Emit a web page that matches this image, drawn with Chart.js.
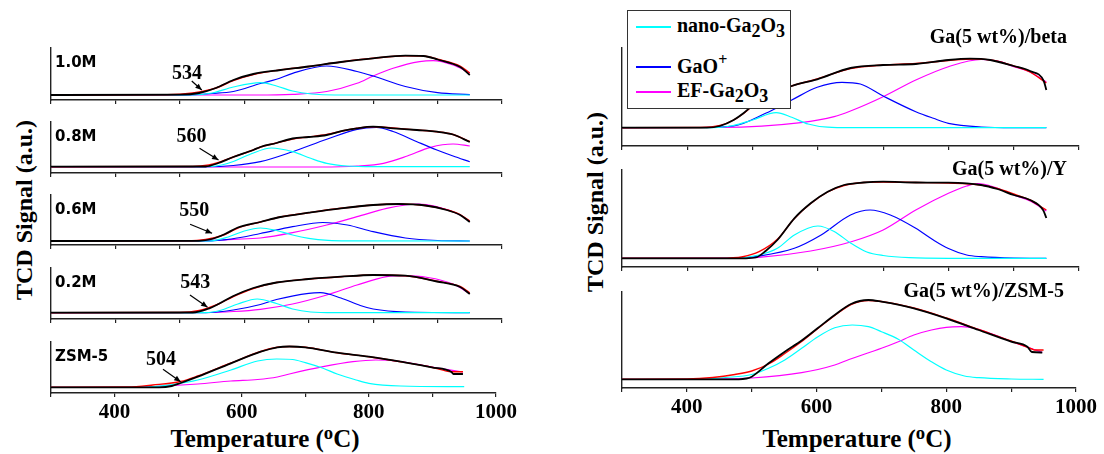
<!DOCTYPE html>
<html>
<head>
<meta charset="utf-8">
<script src="https://cdn.jsdelivr.net/npm/chart.js@4.4.0/dist/chart.umd.min.js"></script>
<style>
  body { margin: 0; background: #fff; width: 1104px; height: 454px; position: relative; overflow: hidden; font-family: "Liberation Serif", serif; }
  canvas { position: absolute; }
  .ytitle { position: absolute; font-weight: bold; font-size: 24px; white-space: nowrap; transform: translate(-50%, -50%) rotate(-90deg); }
  .xtitle { position: absolute; font-weight: bold; font-size: 25px; line-height: 25px; white-space: nowrap; transform: translateX(-50%); }
  .xtitle sup { font-size: 0.75em; vertical-align: 0.45em; line-height: 0; }
  #legend { position: absolute; left: 627px; top: 10px; width: 162px; height: 97px; border: 1px solid #333; background: #fff; z-index: 5; }
  #legend .swatch { position: absolute; left: 8px; width: 35px; height: 1.5px; }
  #legend .item { position: absolute; left: 49px; font-weight: bold; font-size: 20px; line-height: 20px; white-space: nowrap; }
  #legend sub { font-size: 0.9em; vertical-align: -0.3em; line-height: 0; }
  #legend sup { font-size: 0.8em; vertical-align: 0.5em; line-height: 0; }
</style>
</head>
<body>

<div class="ytitle" style="left:24px; top:210px;">TCD Signal (a.u.)</div>
<div class="ytitle" style="left:595px; top:202px;">TCD Signal (a.u.)</div>
<div class="xtitle" style="left:265px; top:426px;">Temperature (<sup>o</sup>C)</div>
<div class="xtitle" style="left:857px; top:426px;">Temperature (<sup>o</sup>C)</div>

<div id="legend">
  <div class="swatch" style="top:15px; background:#00ffff;"></div>
  <div class="item" style="top:4px;">nano-Ga<sub>2</sub>O<sub>3</sub></div>
  <div class="swatch" style="top:55px; background:#0000ff;"></div>
  <div class="item" style="top:45px;">GaO<sup>+</sup></div>
  <div class="swatch" style="top:80px; background:#ff00ff;"></div>
  <div class="item" style="top:69px;">EF-Ga<sub>2</sub>O<sub>3</sub></div>
</div>

<script>
// ---- data: [temperature (C), signal (a.u.)] ----

// left panel: Ga loading series on ZSM-5
const m10Exp  = [[300,5],[500,5.3],[530,7],[556,12],[583,20],[614,26],[656,30],[700,33.5],[750,38],[800,41.7],[850,44.3],[878,44],[900,40.5],[935,33],[950,25]];
const m10Fit  = [[300,5],[480,5.2],[520,7],[556,12],[583,19.5],[614,25.5],[656,30],[700,33.5],[750,38],[800,41.7],[850,44.3],[878,44],[900,40.8],[935,34],[950,27]];
const m10Nano = [[300,5],[520,5],[550,7],[583,13],[625,17.3],[650,14],[675,9],[705,6],[740,5],[950,5]];
const m10GaO  = [[300,5],[500,5],[550,6.5],[583,8.5],[625,16.5],[650,20.7],[675,26.7],[728,34],[775,28.5],[800,24],[850,13.5],[900,7.3],[950,5.3]];
const m10EF   = [[300,5],[620,5],[675,5.7],[728,8.5],[775,16.7],[800,24],[831,31.7],[872,38.3],[893,39.3],[924,35],[950,27]];

const m08Exp  = [[300,6.3],[540,6.5],[560,10],[583,16],[614,23],[625,26],[650,30],[675,34.5],[700,36],[728,38],[754,42.3],[775,44.7],[800,46.3],[831,44.7],[868,43],[899,41.3],[924,38.5],[950,31]];
const m08Fit  = [[300,6.3],[520,6.5],[545,8],[560,10.5],[583,16],[614,23],[625,26],[650,30],[675,34],[700,36],[728,38.5],[754,42.3],[775,44.7],[800,46.3],[831,45],[868,43],[899,41.3],[924,38.5],[950,31.5]];
const m08Nano = [[300,6.3],[545,6.3],[565,8],[583,11.5],[610,19],[642,25],[675,21.3],[703,14.7],[728,9.7],[760,7],[800,6.3],[950,6.3]];
const m08GaO  = [[300,6.3],[540,6.3],[583,7.5],[625,11.3],[675,21.3],[728,33.7],[775,43.7],[805,45.7],[831,41.5],[868,31.3],[899,23],[924,17],[950,11.3]];
const m08EF   = [[300,6],[720,6],[775,7],[816,9.7],[853,17],[889,25.7],[924,29],[950,27]];

const m06Exp  = [[300,4],[530,4.2],[550,6],[570,11],[590,17.5],[625,23],[656,28],[700,32.3],[750,36.7],[800,40],[840,41],[881,39.5],[914,35],[935,30],[950,23]];
const m06Fit  = [[300,4],[510,4.2],[540,5.5],[570,10.5],[590,17],[625,23],[656,28],[700,32.3],[750,36.7],[800,40],[840,41],[881,39.5],[914,35.3],[935,30.5],[950,24]];
const m06Nano = [[300,4],[545,4],[575,8],[600,14],[625,17],[650,14.5],[675,10],[700,6.7],[730,4.6],[760,4.1],[950,4]];
const m06GaO  = [[300,4],[540,4],[580,6],[625,11.5],[675,18.3],[722,22.5],[760,20],[800,13.3],[850,7],[900,4.5],[950,4]];
const m06EF   = [[300,4],[520,4],[583,5.7],[625,7],[675,12.3],[728,20],[775,28.3],[821,36.7],[850,40],[870,41],[895,39],[935,30],[950,23.5]];

const m02Exp  = [[300,6.3],[520,6.5],[543,10],[560,15],[583,23],[614,31],[650,36.5],[700,40],[750,42.3],[800,44],[850,43.3],[899,37.5],[935,32],[950,25]];
const m02Fit  = [[300,6.3],[500,6.5],[530,8.5],[560,15],[583,22.5],[614,30.5],[650,36.5],[700,40],[750,42.3],[800,44],[850,43.3],[899,37.8],[935,32.5],[950,26]];
const m02Nano = [[300,6.3],[540,6.3],[565,9],[590,15],[620,20],[650,15.5],[675,10],[703,7],[740,6.3],[950,6.3]];
const m02GaO  = [[300,6.3],[540,6.3],[583,9],[625,14.5],[650,19.5],[700,25.7],[718,26.3],[750,21],[780,13.5],[800,10],[850,7],[950,6.4]];
const m02EF   = [[300,6.3],[540,6.5],[583,7.5],[625,9.7],[675,15],[728,24],[775,34],[821,42.3],[845,43.3],[885,41.5],[924,35],[950,25.5]];

const zsmExp  = [[300,5.7],[470,5.7],[490,7],[504,10],[531,16.3],[583,29.7],[630,41.3],[656,45.7],[675,46.5],[700,45.7],[750,40.3],[800,36.3],[850,31.3],[899,25.7],[930,21],[933,19],[948,19]];
const zsmFit  = [[300,5.7],[420,6],[460,8],[504,11.5],[531,17],[583,30],[630,41.5],[656,45.7],[675,46.5],[700,45.7],[750,40.3],[800,36.3],[850,31.3],[899,25.8],[930,21.3],[948,21.3]];
const zsmNano = [[300,5.7],[450,6],[490,8.5],[531,13],[583,23],[625,32],[655,34],[680,33.5],[700,30.3],[728,24.7],[750,19],[780,13],[800,9.7],[850,7],[950,6.3]];
const zsmEF   = [[300,5.7],[430,6],[478,7],[531,9],[583,12],[625,13.5],[656,16],[675,19],[728,26.3],[775,31.3],[811,33],[850,31.5],[899,26],[948,21]];

const onsetTemps  = [534, 560, 550, 543, 504];
const onsetSignal = [10, 13, 11.7, 11.7, 11.3];

// right panel: 5 wt% Ga on different zeolites
const betaExp  = [[300,18.3],[430,18.3],[450,20],[471,26],[486,32.7],[501,41],[530,52],[560,60],[599,66.7],[650,78],[700,81],[750,82],[800,86],[833,87.3],[864,86],[900,80],[925,75],[946,65],[950,56]];
const betaFit  = [[300,18.3],[420,18.5],[450,20.5],[471,26],[486,32.5],[501,40.5],[530,52],[560,60],[599,67],[650,77.5],[700,81],[750,82.5],[800,85.5],[840,87],[870,85.5],[900,80],[925,74],[950,63]];
const betaNano = [[300,18.3],[440,18.3],[470,20.5],[500,26],[536,33.3],[560,28.7],[585,22],[615,18.8],[650,18.3],[950,18.3]];
const betaGaO  = [[300,18.3],[420,18.5],[471,20],[520,32.7],[560,46],[599,58.7],[637,63.7],[665,62],[700,50],[750,34.3],[777,27.7],[800,22.7],[850,19],[900,18.3],[950,18.3]];
const betaEF   = [[300,18.3],[450,18.5],[574,23.3],[625,29.3],[650,35],[700,49.3],[750,66],[800,79.3],[850,86.5],[879,84.3],[900,79.3],[925,74],[950,64]];

const yExp  = [[300,8.7],[490,8.7],[505,9.5],[520,16],[538,27],[564,48.7],[589,63.7],[615,75.3],[640,82],[670,84.5],[700,85.3],[750,84.5],[800,84.3],[850,82],[875,78],[900,72],[925,67],[945,57],[950,49]];
const yFit  = [[300,8.7],[450,8.8],[485,10.3],[510,15.3],[538,27.7],[564,48.5],[589,63.5],[615,75],[640,81.5],[670,84.5],[700,85],[750,84.5],[800,84],[850,82],[875,78.5],[900,73],[925,67],[945,59],[950,57]];
const yNano = [[300,8.7],[470,8.7],[510,12],[538,18.7],[564,32],[600,41],[625,35.5],[650,24],[675,15],[700,11.5],[740,9.3],[800,8.7],[950,8.7]];
const yGaO  = [[300,8.7],[470,8.7],[510,11],[564,18.7],[605,32],[650,52],[680,57],[711,52],[750,38.7],[777,27],[800,18.5],[828,12],[850,10.3],[900,8.9],[950,8.7]];
const yEF   = [[300,8.7],[460,8.8],[510,9.7],[589,16],[650,25],[700,37],[750,57],[800,73.7],[828,81],[845,83.5],[870,80],[900,72],[925,66],[950,56]];

const zsm5Exp  = [[300,8.7],[480,8.7],[492,9.5],[500,11.3],[526,24.7],[551,36.3],[577,47.5],[602,60],[628,73],[653,84],[680,88],[700,86.3],[750,79.7],[800,69.7],[850,58],[900,46.3],[925,41.3],[932,36],[948,35.5]];
const zsm5Fit  = [[300,8.7],[400,9],[440,10.5],[474,13.5],[500,17],[526,24],[551,34.5],[577,46.5],[602,59.5],[628,72.5],[653,83.5],[680,87.5],[700,86.5],[750,80],[800,70],[850,58.5],[900,47],[932,39],[936,38],[950,38]];
const zsm5Nano = [[300,8.7],[420,8.8],[460,10.5],[500,13.5],[526,19.7],[551,28],[577,39.7],[602,51.3],[628,60.3],[655,63],[680,61.3],[700,56.3],[726,48.7],[750,38],[777,26.3],[800,18],[828,12],[850,10.3],[900,9],[950,8.7]];
const zsm5EF   = [[300,8.7],[440,9],[500,10],[577,15.3],[628,23],[650,28.5],[700,39.7],[726,46.3],[750,53],[777,58],[800,60.7],[823,61.3],[845,59.5],[875,53],[900,46.5],[925,41],[948,35.5]];

// ---- layout ----
const COLORS = { exp: '#000000', fit: '#ff0000', nano: '#00ffff', gao: '#0000ff', ef: '#ff00ff' };
const serif = '"Liberation Serif", serif';

function pts(arr) { return arr.map(p => ({ x: p[0], y: p[1] })); }

function line(arr, color, width) {
  return {
    data: pts(arr), borderColor: color, borderWidth: width, pointRadius: 0,
    cubicInterpolationMode: 'monotone', fill: false
  };
}

// draws the sample name and the onset arrow
const labelPlugin = {
  id: 'labels',
  afterDatasetsDraw(chart) {
    const o = chart.options.plugins.labels;
    const ctx = chart.ctx, area = chart.chartArea;
    const xs = chart.scales.x, ys = chart.scales.y;
    ctx.save();
    ctx.fillStyle = '#000';
    if (o.side === 'left') {
      ctx.font = 'bold 15px "DejaVu Sans"';
      ctx.textAlign = 'left';
      ctx.fillText(o.name, area.left + 4, area.top + 18.5);
    } else {
      ctx.font = 'bold 20px ' + serif;
      ctx.textAlign = 'right';
      ctx.fillText(o.name, area.right - 12, area.top + o.nameDy);
    }
    if (o.onset) {
      const tx = xs.getPixelForValue(o.onset[0]);
      const ty = ys.getPixelForValue(o.onset[1]);
      const sx = tx + o.tail[0], sy = ty + o.tail[1];
      ctx.strokeStyle = '#000';
      ctx.lineWidth = 1.2;
      ctx.beginPath(); ctx.moveTo(sx, sy); ctx.lineTo(tx, ty); ctx.stroke();
      const ang = Math.atan2(ty - sy, tx - sx);
      ctx.beginPath();
      ctx.moveTo(tx, ty);
      ctx.lineTo(tx - 7 * Math.cos(ang - 0.4), ty - 7 * Math.sin(ang - 0.4));
      ctx.lineTo(tx - 7 * Math.cos(ang + 0.4), ty - 7 * Math.sin(ang + 0.4));
      ctx.closePath(); ctx.fill();
      ctx.font = 'bold 20px ' + serif;
      ctx.textAlign = 'left';
      ctx.fillText(String(o.onset[0]), tx + o.text[0], ty + o.text[1]);
    }
    ctx.restore();
  }
};

function makePlot(p) {
  const plotH = p.bottom - p.top;
  const canvas = document.createElement('canvas');
  const h = p.padTop + plotH + p.axisH;
  canvas.width = p.width; canvas.height = h;
  canvas.style.left = p.left + 'px';
  canvas.style.top = (p.top - p.padTop) + 'px';
  canvas.style.width = p.width + 'px';
  canvas.style.height = h + 'px';
  document.body.appendChild(canvas);

  const datasets = [line(p.exp, COLORS.exp, 1.8), line(p.fit, COLORS.fit, 1.4)];
  if (p.nano) datasets.push(line(p.nano, COLORS.nano, 1.2));
  if (p.gao) datasets.push(line(p.gao, COLORS.gao, 1.2));
  if (p.ef) datasets.push(line(p.ef, COLORS.ef, 1.2));

  new Chart(canvas, {
    type: 'line',
    data: { datasets },
    options: {
      responsive: false, animation: false, devicePixelRatio: 1,
      layout: { padding: { left: p.padL, right: p.padR, top: p.padTop, bottom: 0 } },
      plugins: {
        legend: { display: false }, tooltip: { enabled: false },
        labels: { side: p.side, name: p.name, nameDy: p.nameDy, onset: p.onset, tail: p.tail, text: p.text }
      },
      scales: {
        x: {
          type: 'linear', min: 300, max: 1000,
          border: { display: true, color: '#222', width: 1.5 },
          grid: { drawOnChartArea: false, drawTicks: true, tickLength: 4, color: '#222', lineWidth: 1.2 },
          ticks: {
            display: p.showTicks, stepSize: 100, autoSkip: false, maxRotation: 0, padding: 3,
            color: '#000', font: { family: serif, weight: 'bold', size: 21 },
            callback: v => (v >= 400 && v % 200 === 0) ? String(v) : ''
          },
          afterFit: s => { s.height = p.axisH; }
        },
        y: {
          min: 0, max: plotH,
          border: { display: true, color: '#222', width: 1.4 },
          grid: { drawOnChartArea: false, drawTicks: false },
          ticks: { display: false },
          afterFit: s => { s.width = 0; }
        }
      }
    },
    plugins: [labelPlugin]
  });
}

const leftNames = ['1.0M', '0.8M', '0.6M', '0.2M', 'ZSM-5'];
const leftTops = [48, 122, 195, 268, 342];
const leftBottoms = [100, 173, 245, 319, 393];
const leftSeries = [
  [m10Exp, m10Fit, m10Nano, m10GaO, m10EF],
  [m08Exp, m08Fit, m08Nano, m08GaO, m08EF],
  [m06Exp, m06Fit, m06Nano, m06GaO, m06EF],
  [m02Exp, m02Fit, m02Nano, m02GaO, m02EF],
  [zsmExp, zsmFit, zsmNano, null, zsmEF]
];
const arrowTails = [[-10, -9], [-19, -11.7], [-22, -9], [-17.6, -12.3], [-17.7, -12.4]];
const arrowTexts = [[-29.7, -11.3], [-42, -18.3], [-32.7, -17.3], [-27.3, -19], [-34.7, -16.7]];

leftNames.forEach((name, i) => {
  const s = leftSeries[i];
  makePlot({
    side: 'left', name, left: 0, width: 520, padL: 51, padR: 18, padTop: 4,
    top: leftTops[i], bottom: leftBottoms[i], axisH: i === 4 ? 40 : 6, showTicks: i === 4,
    exp: s[0], fit: s[1], nano: s[2], gao: s[3], ef: s[4],
    onset: [onsetTemps[i], onsetSignal[i]], tail: arrowTails[i], text: arrowTexts[i]
  });
});

const rightNames = ['Ga(5 wt%)/beta', 'Ga(5 wt%)/Y', 'Ga(5 wt%)/ZSM-5'];
const rightTops = [48, 170, 292];
const rightBottoms = [146, 267, 388];
const rightNameDy = [-5.3, 5, 4.7];
const rightSeries = [
  [betaExp, betaFit, betaNano, betaGaO, betaEF],
  [yExp, yFit, yNano, yGaO, yEF],
  [zsm5Exp, zsm5Fit, zsm5Nano, null, zsm5EF]
];

rightNames.forEach((name, i) => {
  const s = rightSeries[i];
  makePlot({
    side: 'right', name, nameDy: rightNameDy[i], left: 600, width: 500, padL: 22, padR: 21, padTop: 30,
    top: rightTops[i], bottom: rightBottoms[i], axisH: i === 2 ? 40 : 6, showTicks: i === 2,
    exp: s[0], fit: s[1], nano: s[2], gao: s[3], ef: s[4]
  });
});
</script>
</body>
</html>
